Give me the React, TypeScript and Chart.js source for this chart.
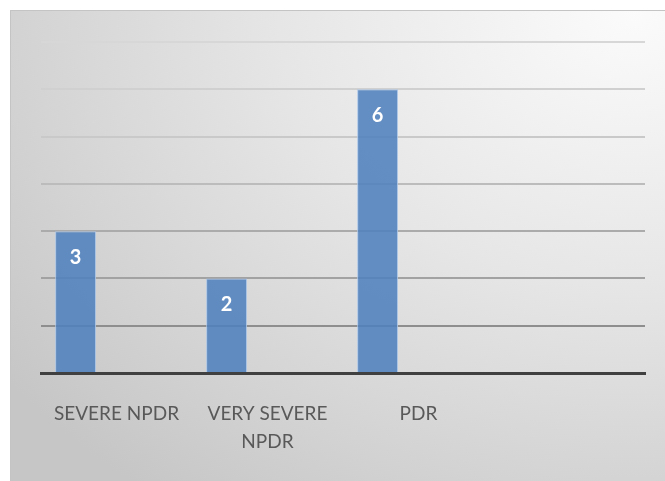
import React, { useEffect, useRef } from "react";
import { Chart, registerables } from "chart.js";

Chart.register(...registerables);

const categories: (string | string[])[] = ["SEVERE NPDR", ["VERY SEVERE", "NPDR"], "PDR", ""];
const seriesMain: (number | null)[] = [3, 2, 6, null];
const seriesEmptyA: (number | null)[] = [null, null, null, null];
const seriesEmptyB: (number | null)[] = [null, null, null, null];
const gridShades: string[] = ["#404040", "#8e8e8e", "#a2a2a2", "#ababab", "#bcbcbc", "#c9c9c9", "#d0d0d0", "#d7d7d7"];

const valueLabels = {
  id: "valueLabels",
  afterDatasetsDraw(chart: any) {
    const ctx = chart.ctx;
    const meta = chart.getDatasetMeta(0);
    ctx.save();
    ctx.fillStyle = "#ffffff";
    ctx.font = "bold 20px Lato, 'Open Sans', sans-serif";
    ctx.textAlign = "center";
    ctx.textBaseline = "middle";
    meta.data.forEach((bar: any, i: number) => {
      const v = seriesMain[i];
      if (v == null) return;
      ctx.fillText(String(v), bar.x, bar.y + 26);
    });
    ctx.restore();
  },
};

export default function App() {
  const ref = useRef<HTMLCanvasElement | null>(null);
  useEffect(() => {
    if (!ref.current) return;
    const chart = new Chart(ref.current, {
      type: "bar",
      data: {
        labels: categories,
        datasets: [
          {
            data: seriesMain,
            backgroundColor: "rgba(79,129,189,0.88)",
            borderColor: "rgba(170,196,232,0.9)",
            borderWidth: 1,
          },
          { data: seriesEmptyA, backgroundColor: "rgba(192,80,77,0.88)" },
          { data: seriesEmptyB, backgroundColor: "rgba(155,187,89,0.88)" },
        ],
      },
      options: {
        animation: false,
        responsive: false,
        maintainAspectRatio: false,
        layout: { padding: { left: 30, right: 20, top: 31, bottom: 0 } },
        datasets: { bar: { categoryPercentage: 0.813, barPercentage: 1 } },
        plugins: { legend: { display: false }, tooltip: { enabled: false } },
        scales: {
          x: {
            grid: { display: false, drawTicks: false },
            border: { display: true, color: "#404040", width: 3 },
            ticks: {
              color: "#595959",
              font: { family: "Lato, 'Open Sans', sans-serif", size: 19, lineHeight: 1.47 },
              padding: 27,
              maxRotation: 0,
              autoSkip: false,
            },
            afterFit: (scale: any) => {
              scale.height = 108;
            },
          },
          y: {
            display: true,
            min: 0,
            max: 7,
            ticks: { display: false, stepSize: 1 },
            border: { display: false },
            grid: {
              drawTicks: false,
              lineWidth: 2,
              color: (c: any) => gridShades[c.tick ? c.tick.value : 0] || "#cccccc",
            },
            afterFit: (scale: any) => {
              scale.width = 0;
            },
          },
        },
      },
      plugins: [valueLabels],
    });
    return () => chart.destroy();
  }, []);
  return (
    <div
      style={{
        position: "fixed",
        left: 10,
        top: 10,
        width: 655,
        height: 471,
        borderTop: "1px solid #c4c4c4",
        borderLeft: "1px solid #c4c4c4",
        boxSizing: "border-box",
        background:
          "radial-gradient(ellipse 120% 130% at 95% 0%, #fbfbfb 0%, #e6e6e6 45%, #d2d2d2 80%, #c6c6c6 100%)",
      }}
    >
      <canvas ref={ref} width={654} height={470} style={{ display: "block" }} />
    </div>
  );
}
